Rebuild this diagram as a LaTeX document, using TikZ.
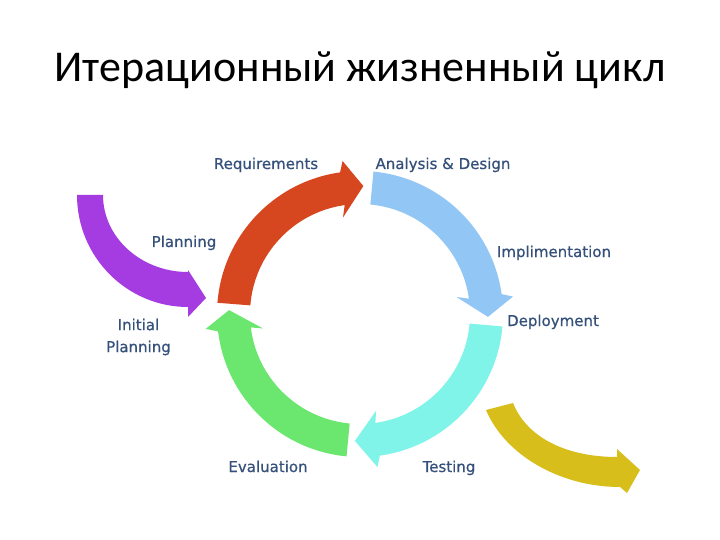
\documentclass[tikz,border=0pt]{standalone}
\usepackage{fontspec}
\newfontfamily\titlefont{Carlito}
\newfontfamily\labelfont[FakeBold=0.6]{DejaVu Sans}
\definecolor{redA}{HTML}{D6461F}
\definecolor{blueA}{HTML}{92C7F5}
\definecolor{cyanA}{HTML}{80F4E8}
\definecolor{greenA}{HTML}{6BE770}
\definecolor{purpleA}{HTML}{A53CE2}
\definecolor{yellowA}{HTML}{D8BE1B}
\definecolor{labelC}{HTML}{35507A}
\tikzset{
  lbl/.style={font=\labelfont\fontsize{15}{22}\selectfont, text=labelC, inner sep=0pt},
  ttl/.style={font=\titlefont\fontsize{44}{52}\selectfont, text=black, inner sep=0pt}
}
\begin{document}
\begin{tikzpicture}[x=1pt,y=1pt]
\useasboundingbox (0,0) rectangle (720,-540);
\fill[white] (0,0) rectangle (720,-540);

\node[ttl, anchor=base] (title) at (360,-82) {Итерационный жизненный цикл};

% main cycle
\begin{scope}[shift={(360,-314)}]
  % red: Requirements
  \fill[redA] (175.5:143) arc[start angle=175.5, end angle=98, radius=143pt]
    -- (96.5:154) -- (88.5:128) -- (100:98) -- (98:110)
    arc[start angle=98, end angle=175.5, radius=110pt] -- cycle;
  % blue: Analysis & Design -> Implementation
  \fill[blueA] (84.6:143) arc[start angle=84.6, end angle=8, radius=143pt]
    -- (6.5:154) -- (-1.3:128) -- (10:98) -- (8:110)
    arc[start angle=8, end angle=84.6, radius=110pt] -- cycle;
  % cyan: Deployment -> Testing
  \fill[cyanA] (-5:143) arc[start angle=-5, end angle=-82, radius=143pt]
    -- (-83.5:154) -- (-92.3:127) -- (-80.5:98) -- (-82:110)
    arc[start angle=-82, end angle=-5, radius=110pt] -- cycle;
  % green: Evaluation
  \fill[greenA] (-95.4:143) arc[start angle=-95.4, end angle=-173, radius=143pt]
    -- (-174.5:155) -- (-181.7:131) -- (-171.5:98) -- (-173:110)
    arc[start angle=-173, end angle=-95.4, radius=110pt] -- cycle;
\end{scope}

% purple: incoming planning arrow
\fill[purpleA] (77,-195) arc[start angle=180, end angle=270, x radius=111pt, y radius=112pt]
  -- (188,-317) -- (206,-298) -- (188,-270) -- (188,-272)
  arc[start angle=270, end angle=180, x radius=85pt, y radius=77pt] -- cycle;

% yellow: outgoing arrow
\fill[yellowA] (486,-410) .. controls (505,-455) and (560,-487) .. (620,-487)
  -- (627,-493) -- (640,-470) -- (617,-449) -- (617,-457)
  .. controls (570,-457) and (528,-440) .. (513,-403) -- cycle;

% labels
\node[lbl, anchor=base] (req) at (266,-169) {Requirements};
\node[lbl, anchor=base] (ana) at (443,-169) {Analysis \& Design};
\node[lbl, anchor=base] (plan) at (184,-247) {Planning};
\node[lbl, anchor=base] (impl) at (554,-257) {Implimentation};
\node[lbl, anchor=base] (depl) at (553,-326) {Deployment};
\node[lbl, align=center] (init) at (138.5,-337) {Initial\\Planning};
\node[lbl, anchor=base] (eval) at (268,-472) {Evaluation};
\node[lbl, anchor=base] (test) at (449,-472) {Testing};
\end{tikzpicture}
\end{document}
